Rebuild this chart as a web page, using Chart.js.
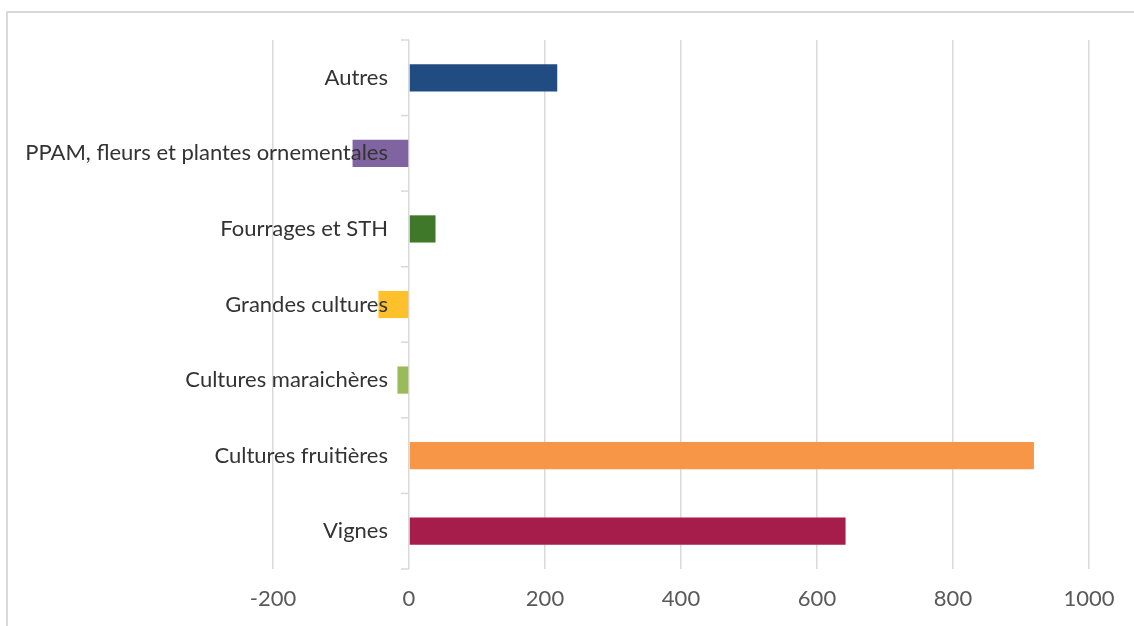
<!DOCTYPE html>
<html lang="fr">
<head>
<meta charset="utf-8">
<title>Variation des surfaces par type de culture</title>
<script src="https://cdn.jsdelivr.net/npm/chart.js@4/dist/chart.umd.min.js"></script>
<style>
  html, body { margin: 0; padding: 0; background: #ffffff; }
  #wrap { position: relative; width: 1134px; height: 626px; }
</style>
</head>
<body>
<div id="wrap"><canvas id="chart" width="1134" height="626"></canvas></div>
<script>
// Categories, top to bottom
const categories = [
  'Autres',
  'PPAM, fleurs et plantes ornementales',
  'Fourrages et STH',
  'Grandes cultures',
  'Cultures maraichères',
  'Cultures fruitières',
  'Vignes'
];
// Values per category
const values = [218, -83, 39, -45, -17, 919, 642];
// Bar colours per category
const barColors = ['#204C82', '#8064A2', '#40782A', '#FFC12B', '#9BBB59', '#F79646', '#A61C4B'];
// Value axis ticks
const tickValues = [-200, 0, 200, 400, 600, 800, 1000];

const FONT = 'Lato, Calibri, Carlito, sans-serif';

// Outer frame around the chart
const framePlugin = {
  id: 'frame',
  beforeDraw(chart) {
    const ctx = chart.ctx;
    ctx.save();
    ctx.strokeStyle = '#d9d9d9';
    ctx.lineWidth = 2;
    ctx.strokeRect(7, 12, 2000, 2000);
    ctx.restore();
  }
};

// Category labels and boundary ticks drawn beside the zero line
const categoryAxisPlugin = {
  id: 'categoryAtZero',
  afterDatasetsDraw(chart) {
    const ctx = chart.ctx;
    const xs = chart.scales.x, ys = chart.scales.y;
    const x0 = xs.getPixelForValue(0);
    const n = categories.length;
    const top = chart.chartArea.top, bottom = chart.chartArea.bottom;
    const step = (bottom - top) / n;
    ctx.save();
    // boundary tick marks
    ctx.strokeStyle = '#d9d9d9';
    ctx.lineWidth = 1.5;
    for (let i = 0; i <= n; i++) {
      const y = top + i * step;
      ctx.beginPath();
      ctx.moveTo(x0 - 8, y);
      ctx.lineTo(x0, y);
      ctx.stroke();
    }
    // labels
    ctx.fillStyle = '#333333';
    ctx.font = '22px ' + FONT;
    ctx.textAlign = 'right';
    ctx.textBaseline = 'middle';
    categories.forEach((c, i) => {
      ctx.fillText(c, x0 - 21, ys.getPixelForValue(i));
    });
    ctx.restore();
  }
};

new Chart(document.getElementById('chart'), {
  type: 'bar',
  data: {
    labels: categories,
    datasets: [{
      data: values,
      backgroundColor: barColors,
      borderWidth: 0,
      barPercentage: 0.36,
      categoryPercentage: 1
    }]
  },
  options: {
    indexAxis: 'y',
    responsive: false,
    animation: false,
    devicePixelRatio: 1,
    layout: { padding: { left: 273, right: 45, top: 40, bottom: 0 } },
    plugins: { legend: { display: false }, tooltip: { enabled: false } },
    scales: {
      x: {
        min: tickValues[0],
        max: tickValues[tickValues.length - 1],
        afterBuildTicks(scale) { scale.ticks = tickValues.map(v => ({ value: v })); },
        afterFit(scale) { scale.height = 57; },
        border: { display: false },
        grid: { color: '#d9d9d9', lineWidth: 1.5, drawTicks: false },
        ticks: {
          color: '#595959',
          font: { family: FONT, size: 22 },
          padding: 17,
          callback: (v) => String(v)
        }
      },
      y: {
        display: false
      }
    }
  },
  plugins: [framePlugin, categoryAxisPlugin]
});
</script>
</body>
</html>
